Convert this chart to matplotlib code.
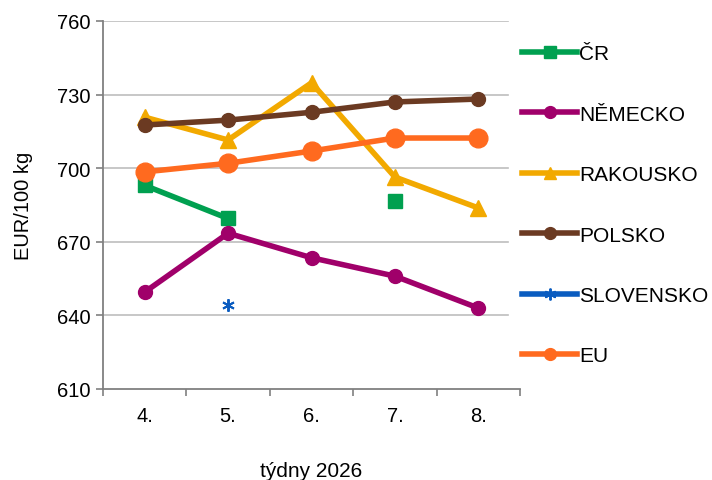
import numpy as np
import matplotlib
matplotlib.use("Agg")
import matplotlib.pyplot as plt

plt.rcParams['font.family'] = ['Liberation Sans', 'DejaVu Sans']

weeks = ["4.", "5.", "6.", "7.", "8."]
cr = [693.0, 679.5, np.nan, 686.5, np.nan]
nemecko = [649.5, 673.5, 663.5, 656.0, 643.0]
rakousko = [720.8, 711.5, 734.8, 696.4, 683.8]
polsko = [717.6, 719.6, 722.8, 727.0, 728.2]
slovensko = [np.nan, 644.3, np.nan, np.nan, np.nan]
eu = [698.5, 702.0, 707.0, 712.3, 712.3]
yticks = [610, 640, 670, 700, 730, 760]

series = [
    ("ČR", cr, "#00A050", "s", 10),
    ("NĚMECKO", nemecko, "#A0006A", "o", 10),
    ("RAKOUSKO", rakousko, "#F2A900", "^", 12),
    ("POLSKO", polsko, "#6B3A22", "o", 10),
    ("SLOVENSKO", slovensko, "#0A5CC0", "x", 9),
    ("EU", eu, "#FF6A1F", "o", 13.5),
]

fig = plt.figure(figsize=(7.12, 4.81), dpi=100)
ax = fig.add_axes([103/712, 1-390/481, (520-103)/712, (390-22)/481])

x = np.arange(len(weeks))
for name, vals, col, mk, ms in series:
    if mk == "x":
        ax.plot(x, vals, color=col, lw=4, marker=(6, 2, 0), ms=ms, mew=1.4,
                mec=col, label=name, zorder=3)
    else:
        ax.plot(x, vals, color=col, lw=4, marker=mk, ms=ms, mec=col, mfc=col,
                label=name, zorder=3)

ax.set_xlim(-0.5, 4.5)
ax.set_ylim(610, 760)
ax.set_yticks(yticks)
ax.set_xticks(x)
ax.set_xticklabels(weeks)
ax.set_xticks(np.arange(-0.5, 5.0, 1.0), minor=True)
ax.tick_params(axis='x', which='major', length=0, pad=12, labelsize=14.5)
ax.tick_params(axis='x', which='minor', length=5, direction='out', color='#808080', width=1.2)
ax.tick_params(axis='y', length=5, direction='out', color='#808080', width=1.2,
               labelsize=14.5, pad=4)
for yv in yticks[1:]:
    ax.axhline(yv, xmin=0, xmax=(508-103)/417, color='#BEBEBE', lw=1.2, zorder=0)
for s in ['top', 'right']:
    ax.spines[s].set_visible(False)
for s in ['left', 'bottom']:
    ax.spines[s].set_color('#808080')
    ax.spines[s].set_linewidth(1.3)

ax.set_ylabel("EUR/100 kg", fontsize=14.5, labelpad=17)
ax.set_xlabel("týdny 2026", fontsize=15, labelpad=26)

leg = ax.legend(loc='upper left', bbox_to_anchor=(1.005, 0.937), frameon=False,
                fontsize=15, labelspacing=1.99, handlelength=2.65, handletextpad=0.1,
                borderaxespad=0.0, borderpad=0.0)
for h in leg.legend_handles:
    h.set_markersize(8.5)

fig.savefig("out.png", dpi=100)
